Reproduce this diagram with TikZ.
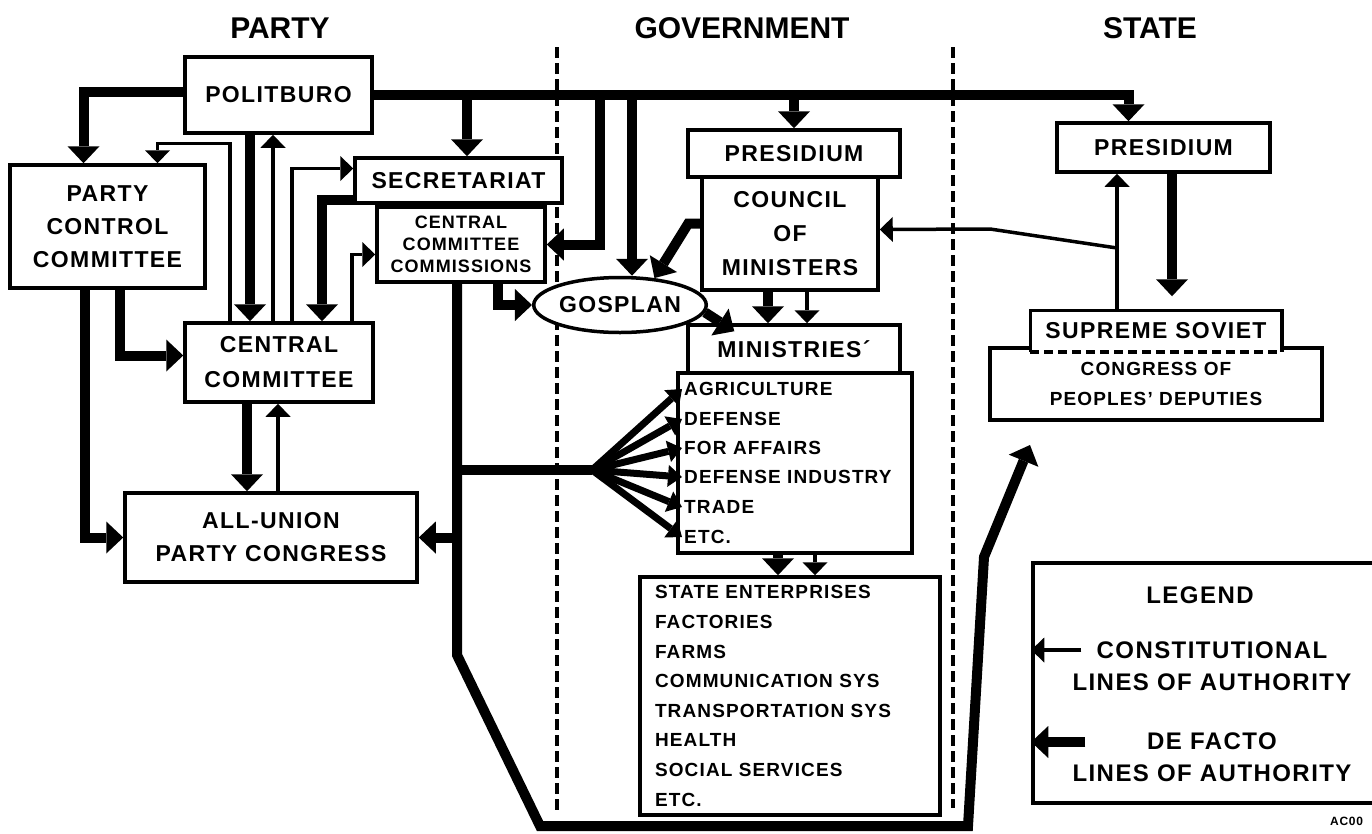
\documentclass[tikz,border=0pt]{standalone}
\usepackage{fontspec}
\setmainfont{Liberation Sans}[LetterSpace=6]
\newfontfamily\headfont{Liberation Sans}
\usetikzlibrary{arrows.meta,shapes.geometric,positioning}

\tikzset{
  box/.style={draw, line width=3.5pt, fill=white, inner sep=0pt, align=center,
    font=\bfseries\fontsize{23}{33}\selectfont},
  head/.style={font=\headfont\bfseries\fontsize{30}{36}\selectfont},
  small/.style={font=\bfseries\fontsize{18}{22}\selectfont},
  listtxt/.style={font=\bfseries\fontsize{19}{29.6}\selectfont},
  item/.style={anchor=west, inner sep=0pt, font=\bfseries\fontsize{19}{24}\selectfont},
  legtxt/.style={align=center, inner sep=0pt, font=\bfseries\fontsize{24}{32}\selectfont},
  thickline/.style={line width=10pt},
  defacto/.style={thickline, -{Triangle[width=32pt,length=17pt,line width=0pt]}},
  const/.style={line width=3.5pt, -{Triangle[width=25pt,length=13pt,line width=0pt]}},
  fan/.style={line width=7pt, -{Triangle[width=22pt,length=14pt,line width=0pt]}},
  divider/.style={line width=3.5pt, dash pattern=on 11pt off 5pt}
}

\begin{document}
\begin{tikzpicture}[x=1pt,y=-1pt]
\useasboundingbox (0,0) rectangle (1372,833);
\clip (0,0) rectangle (1372,833);

% column headings and dividers
\node[head] (hparty) at (280,28) {PARTY};
\node[head] (hgov) at (742,28) {GOVERNMENT};
\node[head] (hstate) at (1150,28) {STATE};
\draw[divider] (557,47) -- (557,812);
\draw[divider] (953,47) -- (953,808);

% party
\node[box, minimum width=187pt, minimum height=76pt] (polit) at (278.5,95) {POLITBURO};
\node[box, minimum width=195pt, minimum height=123pt] (pcc) at (107.5,226.5) {PARTY\\CONTROL\\COMMITTEE};
\node[box, minimum width=207pt, minimum height=45pt] (secr) at (458.5,180.5) {SECRETARIAT};
\node[box, small, minimum width=168pt, minimum height=75pt] (ccc) at (461,244.5) {CENTRAL\\COMMITTEE\\COMMISSIONS};
\node[box, font=\bfseries\fontsize{23}{35}\selectfont, minimum width=188pt, minimum height=79pt] (cc) at (279,362.5) {CENTRAL\\COMMITTEE};
\node[box, minimum width=292pt, minimum height=89pt] (auc) at (271,537.5) {ALL-UNION\\PARTY CONGRESS};

% government
\node[box, minimum width=212pt, minimum height=47pt] (gpres) at (794,153.5) {PRESIDIUM};
\node[box, font=\bfseries\fontsize{23}{34}\selectfont, minimum width=176pt, minimum height=113pt] (council) at (790,233.5) {COUNCIL\\OF\\MINISTERS};
\node[box, ellipse, minimum width=155pt, minimum height=55pt] (gosplan) at (620,305) {GOSPLAN};
\node[box, minimum width=212pt, minimum height=48pt] (mins) at (794,349) {MINISTRIES´};
\node[box, minimum width=234pt, minimum height=180pt] (minlist) at (795,463) {};
\node[item] (agr) at (684,389) {AGRICULTURE};
\node[item] (dfn) at (684,419) {DEFENSE};
\node[item] (fora) at (684,448) {FOR AFFAIRS};
\node[item] (dind) at (684,477) {DEFENSE INDUSTRY};
\node[item] (trd) at (684,507) {TRADE};
\node[item] (etcm) at (684,537) {ETC.};
\node[box, listtxt, align=left, text width=270pt, inner xsep=15pt, minimum height=238pt] (ent) at (790,696)
  {STATE ENTERPRISES\\FACTORIES\\FARMS\\COMMUNICATION SYS\\TRANSPORTATION SYS\\HEALTH\\SOCIAL SERVICES\\ETC.};

% state
\node[box, minimum width=213pt, minimum height=49pt] (spres) at (1163.5,147.5) {PRESIDIUM};
\node[box, font=\bfseries\fontsize{19}{30}\selectfont, minimum width=332pt, minimum height=72pt] (cpd) at (1156,384) {CONGRESS OF\\PEOPLES’ DEPUTIES};
\node[box, draw=none, minimum width=248pt, minimum height=38pt] (ss) at (1156,331) {SUPREME SOVIET};
\draw[line width=3.5pt] (ss.south west) |- (ss.north east) -- (ss.south east);
\draw[line width=3.5pt, dash pattern=on 9pt off 5pt] (ss.south west) -- (ss.south east);

% legend
\node[box, minimum width=357pt, minimum height=240pt] (legend) at (1211.5,683) {};
\node[legtxt] (legtitle) at (1200,595) {LEGEND};
\node[legtxt] (legconst) at (1212,666.5) {CONSTITUTIONAL\\LINES OF AUTHORITY};
\node[legtxt] (legfacto) at (1212,757.5) {DE FACTO\\LINES OF AUTHORITY};
\coordinate (lc) at (legend.west |- 0,650);
\coordinate (lf) at (legend.west |- 0,742);
\draw[const] ([xshift=50pt]lc) -- (lc);
\draw[defacto] ([xshift=54pt]lf) -- (lf);
\node[anchor=west, inner sep=0pt, font=\bfseries\fontsize{12}{14}\selectfont] (code) at (1330,821) {AC00};

% de facto lines from the politburo
\draw[defacto] (polit.east) -| ([xshift=-35pt]spres.north);
\draw[defacto] ([yshift=3pt]polit.west) -| ([xshift=-24pt]pcc.north);
\draw[defacto] (polit.east -| 467,0) -- (secr.north -| 467,0);
\draw[defacto] (polit.east -| 600,0) |- (ccc.east);
\draw[defacto] (polit.east -| 632,0) -- (gosplan.north -| 632,0);
\draw[defacto] (polit.east -| gpres.north) -- (gpres.north);
\draw[defacto] (polit.south -| 250,0) -- (cc.north -| 250,0);
\draw[const] (cc.north -| 273,0) -- (polit.south -| 273,0);

% central committee
\draw[const] (cc.north -| 230,0) |- ([xshift=50pt,yshift=20pt]pcc.north) -- ([xshift=50pt]pcc.north);
\draw[const] (cc.north -| 292,0) |- ([yshift=12pt]secr.west);
\draw[defacto] ([yshift=-19pt]secr.west) -| (cc.north -| 322,0);
\draw[const] (cc.north -| 352,0) |- ([yshift=-10pt]ccc.west);
\draw[defacto] (pcc.south -| 120,0) |- ([yshift=7pt]cc.west);
\draw[defacto] (pcc.south -| 85,0) |- (auc.west);
\draw[defacto] (cc.south -| 247,0) -- (auc.north -| 247,0);
\draw[const] (auc.north -| 278,0) -- (cc.south -| 278,0);
\draw[defacto] (ccc.south -| 498,0) |- (gosplan.west);

% commissions trunk
\coordinate (trunk) at (ccc.south -| 457,0);
\coordinate (hub) at (592,470);
\coordinate (tostate) at (1030,445);
\draw[defacto] (trunk) -- (457,655) -- (540,826) -- (968,826) -- (984,557) -- (tostate);
\draw[thickline] (hub -| trunk) -- (hub);
\draw[defacto] (trunk |- auc.east) -- (auc.east);
\foreach \m in {agr,dfn,fora,dind,trd,etcm}
  \draw[fan] (hub) -- ([xshift=-2pt]\m.west);

% government lines
\draw[defacto] ([yshift=10pt]council.west) -- ++(-12,0) -- (gosplan.38);
\draw[defacto] (gosplan.-5) -- ([xshift=48pt,yshift=-8pt]mins.north west);
\draw[defacto] (council.south -| 768,0) -- (mins.north -| 768,0);
\draw[const] (council.south -| 807,0) -- (mins.north -| 807,0);
\draw[defacto] (minlist.south -| 778,0) -- (ent.north -| 778,0);
\draw[const] (minlist.south -| 815,0) -- (ent.north -| 815,0);

% state lines
\draw[defacto, shorten >=14pt] (spres.south -| 1172,0) -- (ss.north -| 1172,0);
\draw[const] (ss.north -| 1117,0) -- (spres.south -| 1117,0);
\coordinate (ssjoin) at (1117,248);
\draw[const] (ssjoin) -- (990,229) -- ([yshift=4pt]council.east);
\end{tikzpicture}
\end{document}
